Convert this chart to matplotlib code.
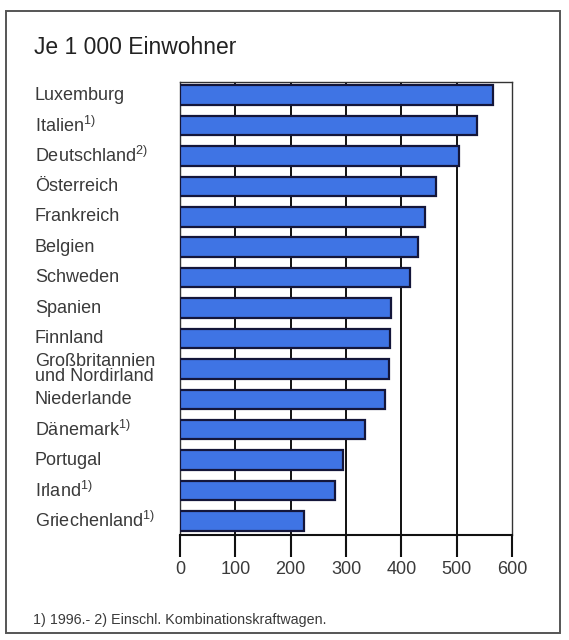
import matplotlib.pyplot as plt
import matplotlib.transforms as mtransforms
from matplotlib.patches import Rectangle

plt.rcParams["font.family"] = ["Liberation Sans", "DejaVu Sans"]
plt.rcParams["mathtext.fontset"] = "custom"
plt.rcParams["mathtext.rm"] = "Liberation Sans"
plt.rcParams["mathtext.it"] = "Liberation Sans"

# ── Data (Pkw je 1 000 Einwohner) ────────────────────────────────────────

countries = [
    "Luxemburg",
    r"Italien$^{1)}$",
    r"Deutschland$^{2)}$",
    "Österreich",
    "Frankreich",
    "Belgien",
    "Schweden",
    "Spanien",
    "Finnland",
    "Großbritannien\nund Nordirland",
    "Niederlande",
    r"Dänemark$^{1)}$",
    "Portugal",
    r"Irland$^{1)}$",
    r"Griechenland$^{1)}$",
]
values = [565, 536, 504, 462, 442, 431, 416, 382, 379, 377, 371, 334, 294, 281, 224]
xticks = [0, 100, 200, 300, 400, 500, 600]

title = "Je 1 000 Einwohner"
footnote = "1) 1996.- 2) Einschl. Kombinationskraftwagen."

TEXT = "#3a3a3a"
BAR = "#3f74e4"
EDGE = "#14163a"

fig = plt.figure(figsize=(5.69, 6.40), dpi=100)
fig.patch.set_facecolor("white")

# outer frame of the figure box
fig.patches.append(Rectangle((6 / 569, 1 - 633 / 640), 554 / 569, 622 / 640,
                             transform=fig.transFigure, fill=False,
                             edgecolor="#555555", linewidth=1.4))

ax = fig.add_axes([180 / 569, 1 - 535 / 640, 332 / 569, 453 / 640])
ypos = list(range(len(countries)))
ax.barh(ypos, values, height=0.64, color=BAR, edgecolor=EDGE,
        linewidth=1.6, zorder=3)

ax.set_xlim(0, 600)
ax.set_ylim(14.46, -0.43)
ax.set_xticks(xticks)
ax.set_xticklabels([str(v) for v in xticks], fontsize=13, color=TEXT)
ax.tick_params(axis="x", direction="out", length=16, width=1.5, pad=3,
               color="#111111")
ax.set_yticks([])
for v in xticks[1:-1]:
    ax.axvline(v, color="#111111", linewidth=1.4, zorder=1)
for side in ("top", "right", "left"):
    ax.spines[side].set_linewidth(1.0)
    ax.spines[side].set_color("#333333")
ax.spines["bottom"].set_linewidth(1.5)
ax.spines["bottom"].set_color("#111111")

# left-aligned country labels
trans = mtransforms.blended_transform_factory(fig.transFigure, ax.transData)
for y, name in zip(ypos, countries):
    ax.text(35 / 569, y, name, transform=trans, ha="left", va="center",
            fontsize=13, color=TEXT, linespacing=0.8, clip_on=False)

fig.text(34 / 569, 1 - 48 / 640, title, ha="left", va="center",
         fontsize=16.5, color="#222222")
fig.text(33 / 569, 1 - 620 / 640, footnote, ha="left", va="center",
         fontsize=10.3, color=TEXT)

fig.savefig("out.png", dpi=100)
